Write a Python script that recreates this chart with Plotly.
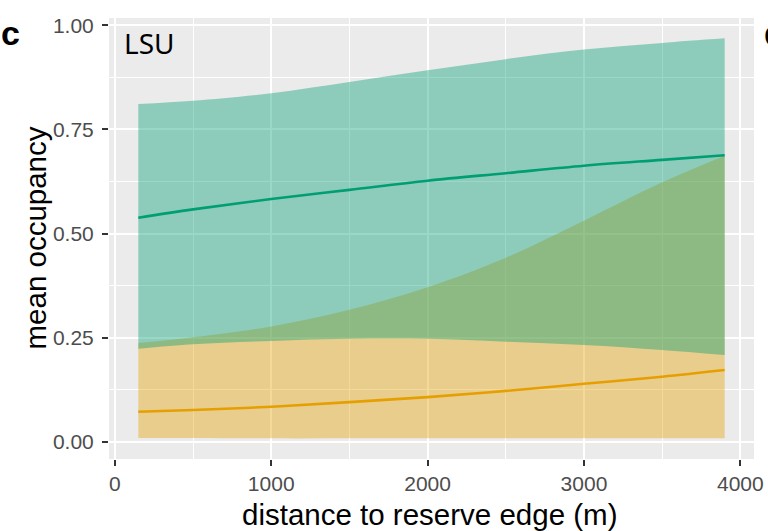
import plotly.graph_objects as go

# ---- data ----
distance = [150, 500, 1000, 1500, 2000, 2500, 3000, 3500, 3900]

green_mean  = [0.538, 0.558, 0.583, 0.605, 0.627, 0.645, 0.663, 0.677, 0.688]
green_upper = [0.811, 0.819, 0.837, 0.864, 0.892, 0.919, 0.942, 0.958, 0.969]
green_lower = [0.223, 0.234, 0.242, 0.247, 0.247, 0.240, 0.232, 0.220, 0.208]

orange_mean  = [0.072, 0.076, 0.084, 0.095, 0.107, 0.122, 0.139, 0.156, 0.172]
orange_upper = [0.237, 0.251, 0.277, 0.317, 0.371, 0.442, 0.531, 0.623, 0.687]
orange_lower = [0.009, 0.009, 0.008, 0.008, 0.008, 0.008, 0.008, 0.008, 0.008]

x_ticks = [0, 1000, 2000, 3000, 4000]
y_ticks = [0.0, 0.25, 0.5, 0.75, 1.0]
y_tick_text = ["0.00", "0.25", "0.50", "0.75", "1.00"]

x_title = "distance to reserve edge (m)"
y_title = "mean occupancy"

GREEN = "#009E73"
ORANGE = "#E69F00"
GREEN_FILL = "rgba(0,158,115,0.4)"
ORANGE_FILL = "rgba(230,159,0,0.4)"

fig = go.Figure()

# orange ribbon
fig.add_trace(go.Scatter(x=distance, y=orange_lower, mode="lines",
                         line=dict(width=0, shape="spline"), hoverinfo="skip", showlegend=False))
fig.add_trace(go.Scatter(x=distance, y=orange_upper, mode="lines", fill="tonexty",
                         fillcolor=ORANGE_FILL, line=dict(width=0, shape="spline"),
                         hoverinfo="skip", showlegend=False))
# green ribbon
fig.add_trace(go.Scatter(x=distance, y=green_lower, mode="lines",
                         line=dict(width=0, shape="spline"), hoverinfo="skip", showlegend=False))
fig.add_trace(go.Scatter(x=distance, y=green_upper, mode="lines", fill="tonexty",
                         fillcolor=GREEN_FILL, line=dict(width=0, shape="spline"),
                         hoverinfo="skip", showlegend=False))
# mean lines
fig.add_trace(go.Scatter(x=distance, y=green_mean, mode="lines",
                         line=dict(color=GREEN, width=2.6, shape="spline"), showlegend=False))
fig.add_trace(go.Scatter(x=distance, y=orange_mean, mode="lines",
                         line=dict(color=ORANGE, width=2.6, shape="spline"), showlegend=False))

FAMILY = "Liberation Sans, Arial, sans-serif"
TICKFONT = dict(family=FAMILY, size=21, color="#4D4D4D")
TITLEFONT = dict(family=FAMILY, size=29.5, color="black")

fig.update_xaxes(
    range=[-37.5, 4087.5], tickvals=x_ticks, ticktext=[str(v) for v in x_ticks],
    showgrid=True, gridcolor="white", gridwidth=2.2,
    minor=dict(dtick=500, tick0=0, showgrid=True, gridcolor="white", gridwidth=1.1, ticks=""),
    ticks="outside", ticklen=6, tickwidth=2, tickcolor="#333333",
    tickfont=TICKFONT, zeroline=False, showline=False, automargin=False,
)
fig.update_yaxes(
    range=[-0.0416, 1.0178], tickvals=y_ticks, ticktext=y_tick_text,
    showgrid=True, gridcolor="white", gridwidth=2.2,
    minor=dict(dtick=0.125, tick0=0, showgrid=True, gridcolor="white", gridwidth=1.1, ticks=""),
    ticks="outside", ticklen=6, tickwidth=2, tickcolor="#333333",
    tickfont=TICKFONT, zeroline=False, showline=False, ticklabelstandoff=4,
    automargin=False,
)

# axis titles
fig.add_annotation(text=x_title, xref="paper", yref="paper", x=0.5, y=0,
                   xanchor="center", yanchor="middle", xshift=-2, yshift=-55,
                   showarrow=False, font=TITLEFONT)
fig.add_annotation(text=y_title, xref="paper", yref="paper", x=0, y=0.5,
                   xanchor="center", yanchor="middle", xshift=-74, yshift=0,
                   textangle=-90, showarrow=False, font=TITLEFONT)

# panel labels
fig.add_annotation(text="<b>c</b>", xref="paper", yref="paper", x=0, y=1,
                   xanchor="left", yanchor="middle", xshift=-110, yshift=-15,
                   showarrow=False, font=dict(family=FAMILY, size=34, color="black"))
fig.add_annotation(text="<b>d</b>", xref="paper", yref="paper", x=1, y=1,
                   xanchor="left", yanchor="middle", xshift=8, yshift=-15,
                   showarrow=False, font=dict(family=FAMILY, size=34, color="black"))
fig.add_annotation(text="LSU", xref="paper", yref="paper", x=0, y=1,
                   xanchor="left", yanchor="middle", xshift=13, yshift=-25,
                   showarrow=False, font=dict(family="Noto Sans, sans-serif", size=28, color="black"))

fig.update_layout(
    width=768, height=531,
    margin=dict(l=109, r=14, t=18, b=72),
    paper_bgcolor="white", plot_bgcolor="#EBEBEB",
    showlegend=False,
)

fig.write_html("out.html")
